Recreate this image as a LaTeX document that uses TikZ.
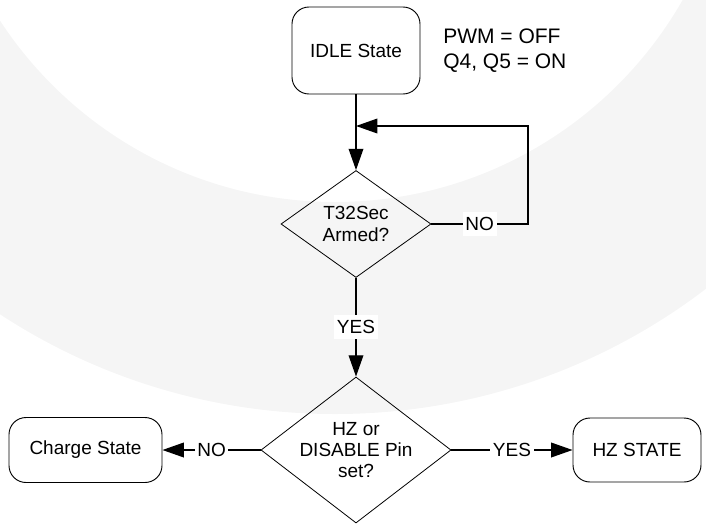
\documentclass[tikz,border=0pt]{standalone}
\usepackage{fontspec}
\setmainfont{Liberation Sans}
\usetikzlibrary{shapes.geometric,arrows.meta}

\begin{document}
\begin{tikzpicture}[
  x=0.75pt, y=-0.75pt,
  font=\fontsize{14.25}{16}\selectfont, every node/.style={align=center},
  state/.style={rounded corners=12.75pt,draw,line width=0.7pt,inner sep=2pt},
  decide/.style={diamond,draw,line width=0.6pt,inner sep=0pt},
  arr/.style={-{Triangle[length=16pt,width=11pt]},line width=1pt},
  lbl/.style={fill=white,inner xsep=2pt,inner ysep=4pt}
]
\useasboundingbox (0,0) rectangle (706,525);
% faint ring in the background
\begin{scope}
  \clip (0,0) rectangle (706,525);
  \fill[black!4,even odd rule] (335,-198) circle (612) (335,-198) circle (400);
\end{scope}

\node[state,minimum width=96pt,minimum height=65.25pt] (idle) at (356,50.5) {IDLE State};
\node[anchor=west,inner sep=0pt,align=left,font=\fontsize{15.75}{18.75}\selectfont] (note) at (443,50.5) {PWM = OFF\\Q4, Q5 = ON};
\node[decide,minimum width=112.5pt,minimum height=80.25pt,label={center:T32Sec\\Armed?}] (t32) at (356,224) {};
\node[decide,minimum width=142.5pt,minimum height=109.5pt,label={center:HZ or\\DISABLE Pin\\set?}] (hz) at (356,450) {};
\node[state,minimum width=114.75pt,minimum height=48.75pt] (charge) at (85.5,450) {Charge State};
\node[state,minimum width=96pt,minimum height=48pt] (hzst) at (637,450) {HZ STATE};

\coordinate (join) at (356,126);
\coordinate (loopc) at (528,126);

\draw[arr] (idle) -- (t32);
\draw[arr] (t32.east) -- node[lbl]{NO} (t32.east -| loopc) -- (loopc) -- (join);
\draw[arr] (t32) -- node[lbl]{YES} (hz);
\draw[arr] (hz) -- node[lbl]{NO} (charge);
\draw[arr] (hz) -- node[lbl]{YES} (hzst);
\end{tikzpicture}
\end{document}
